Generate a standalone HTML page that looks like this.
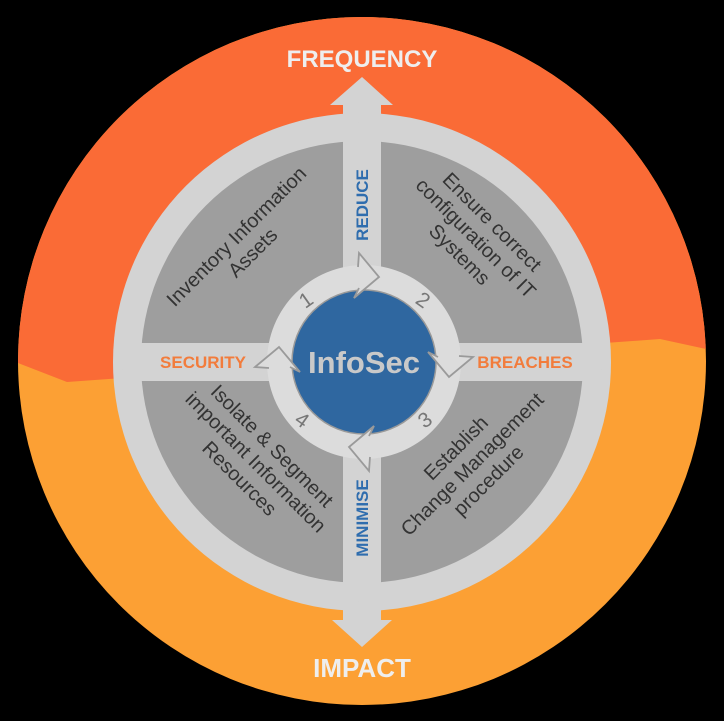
<!DOCTYPE html>
<html><head><meta charset="utf-8"><style>
html,body{margin:0;padding:0;background:#000;}
svg{display:block}
text{font-family:"Liberation Sans",Arial,sans-serif;}
</style></head><body>
<svg width="724" height="721" viewBox="0 0 724 721" xmlns="http://www.w3.org/2000/svg">
<defs>
<clipPath id="oc"><circle cx="362" cy="361" r="344"/></clipPath>
<clipPath id="ic"><circle cx="362" cy="362" r="240"/></clipPath>
</defs>
<g clip-path="url(#oc)">
<rect x="0" y="0" width="724" height="721" fill="#FCA034"/>
<path d="M0,0 L724,0 L724,352 L706,349 L660,339 L67,382 L18,363 L0,360 Z" fill="#FA6B36"/>
</g>
<circle cx="362" cy="362" r="249" fill="#D3D3D3"/>
<circle cx="362" cy="362" r="221" fill="#9E9E9E"/>
<g clip-path="url(#ic)">
<rect x="343" y="100" width="38" height="530" fill="#D3D3D3"/>
<rect x="100" y="343" width="530" height="38" fill="#D3D3D3"/>
</g>
<rect x="343" y="100" width="38" height="20" fill="#D3D3D3"/>
<rect x="343" y="605" width="38" height="20" fill="#D3D3D3"/>
<polygon points="330,105 362,77 393,105" fill="#D3D3D3"/>
<polygon points="332,620 362,647 392,620" fill="#D3D3D3"/>
<circle cx="364" cy="362" r="97" fill="#DCDCDC"/>
<circle cx="364" cy="362" r="72" fill="#2F67A0" stroke="#9A9A9A" stroke-width="1.5"/>
<g>
<g id="ar">
<polygon points="358,267 359,253 379,277 354,298 359,288 352,278" fill="#DCDCDC"/>
<polyline points="358,267 359,253 379,277 354,298 359,288" fill="none" stroke="#9A9A9A" stroke-width="1.8"/>
</g>
<use href="#ar" transform="rotate(90 364 362)"/>
<use href="#ar" transform="rotate(180 364 362)"/>
<use href="#ar" transform="rotate(270 364 362)"/>
</g>
<text x="364" y="373" text-anchor="middle" font-size="31" font-weight="bold" fill="#C9C9C9">InfoSec</text>
<g font-size="21" fill="#777" text-anchor="middle">
<text x="306" y="307" transform="rotate(-35 306 300)">1</text>
<text x="423" y="307" transform="rotate(35 423 300)">2</text>
<text x="425" y="427" transform="rotate(-35 425 420)">3</text>
<text x="302" y="427" transform="rotate(35 302 420)">4</text>
</g>
<text x="0" y="0" font-size="17" font-weight="bold" fill="#2F6DAE" text-anchor="middle" transform="translate(368,205) rotate(-90)">REDUCE</text>
<text x="0" y="0" font-size="17" font-weight="bold" fill="#2F6DAE" text-anchor="middle" transform="translate(368,518) rotate(-90)">MINIMISE</text>
<text x="203" y="368" font-size="17" font-weight="bold" fill="#F27C3C" text-anchor="middle">SECURITY</text>
<text x="525" y="368" font-size="17" font-weight="bold" fill="#F27C3C" text-anchor="middle">BREACHES</text>
<text x="362" y="67" font-size="24" font-weight="bold" fill="#EEE" text-anchor="middle">FREQUENCY</text>
<text x="362" y="677" font-size="26" font-weight="bold" fill="#EEE" text-anchor="middle">IMPACT</text>
<g font-size="20" fill="#333" text-anchor="middle">
<g transform="translate(244,244) rotate(-45)">
<text x="0" y="-4">Inventory Information</text>
<text x="0" y="19">Assets</text>
</g>
<g transform="translate(476,238) rotate(45)">
<text x="0" y="-16">Ensure correct</text>
<text x="0" y="7">configuration of IT</text>
<text x="0" y="30">Systems</text>
</g>
<g transform="translate(256,462) rotate(45)">
<text x="0" y="-16">Isolate &amp; Segment</text>
<text x="0" y="7">important Information</text>
<text x="0" y="30">Resources</text>
</g>
<g transform="translate(472,464) rotate(-45)">
<text x="0" y="-16">Establish</text>
<text x="0" y="7">Change Management</text>
<text x="0" y="30">procedure</text>
</g>
</g>
</svg>
</body></html>
